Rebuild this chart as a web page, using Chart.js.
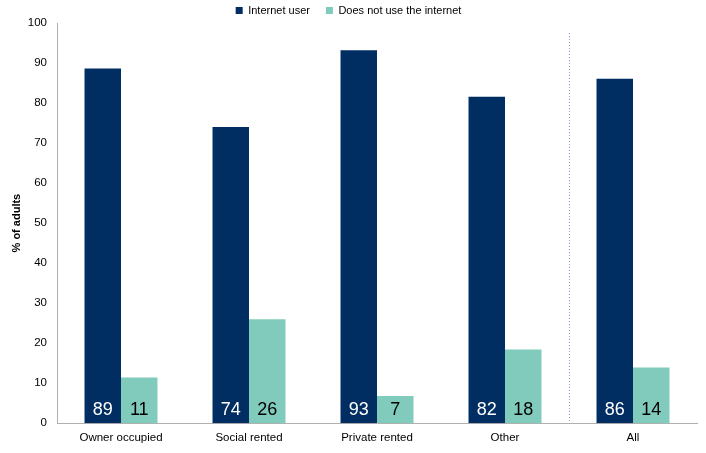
<!DOCTYPE html>
<html><head><meta charset="utf-8">
<script src="https://cdn.jsdelivr.net/npm/chart.js@4"></script>
<style>html,body{margin:0;padding:0;background:#fff}#w{width:706px;height:453px}</style>
</head><body><div id="w"><canvas id="c"></canvas></div>
<script>
const categories = ["Owner occupied","Social rented","Private rented","Other","All"];
const internetUser = [88.6, 74.0, 93.2, 81.6, 86.1];
const nonUser = [11.4, 26.0, 6.8, 18.4, 13.9];
const userLabels = ["89","74","93","82","86"];
const nonUserLabels = ["11","26","7","18","14"];
const yTicks = [0,10,20,30,40,50,60,70,80,90,100];
const FONT = '"Liberation Sans", Arial, sans-serif';

const labelPlugin = {
  id:'lbl',
  afterInit(chart){
    const lg = chart.legend;
    if (lg) {
      const f = lg.fit; lg.fit = function(){ f.call(this); this.height = 23; };
      const d = lg.draw; lg.draw = function(){ const t=this.top; this.top = t-11; d.call(this); this.top = t; };
    }
  },
  afterDatasetsDraw(chart){
    const ctx = chart.ctx, ys = chart.scales.y;
    const sets = [[userLabels,'#ffffff'],[nonUserLabels,'#000000']];
    ctx.save();
    ctx.font = '18px ' + FONT;
    ctx.textAlign='center'; ctx.textBaseline='middle';
    sets.forEach((s,di)=>{
      const meta = chart.getDatasetMeta(di);
      meta.data.forEach((bar,i)=>{
        ctx.fillStyle = s[1];
        ctx.fillText(s[0][i], bar.x, ys.getPixelForValue(0)-13);
      });
    });
    ctx.restore();
  },
  beforeDatasetsDraw(chart){
    const ctx = chart.ctx, xs = chart.scales.x, a = chart.chartArea;
    const x = Math.round((xs.getPixelForValue(3)+xs.getPixelForValue(4))/2)+0.5;
    ctx.save();
    ctx.strokeStyle='#7f9fc8'; ctx.lineWidth=1; ctx.setLineDash([1,2]);
    ctx.beginPath(); ctx.moveTo(x,a.top+10); ctx.lineTo(x,a.bottom); ctx.stroke();
    ctx.restore();
  }
};

new Chart(document.getElementById('c'),{
  type:'bar',
  data:{labels:categories,datasets:[
    {label:'Internet user',data:internetUser,backgroundColor:'#002d62',categoryPercentage:0.57,barPercentage:1},
    {label:'Does not use the internet',data:nonUser,backgroundColor:'#80cbbb',categoryPercentage:0.57,barPercentage:1}
  ]},
  options:{
    responsive:true,maintainAspectRatio:false,animation:false,
    layout:{padding:{left:0,right:9,top:0,bottom:0}},
    plugins:{
      legend:{position:'top',align:'center',labels:{boxWidth:7,boxHeight:7,padding:16,color:'#000',font:{family:FONT,size:11}}},
      tooltip:{enabled:false}
    },
    scales:{
      x:{grid:{display:false,drawTicks:false},border:{color:'#b0b0b0'},ticks:{color:'#000',padding:8,font:{family:FONT,size:11.5}}},
      y:{min:0,max:100,afterBuildTicks(ax){ax.ticks=yTicks.map(v=>({value:v}));},
         afterFit(ax){ax.width=57;},
         grid:{display:false,drawTicks:false},border:{color:'#b0b0b0'},
         ticks:{color:'#000',padding:10,font:{family:FONT,size:11.5}},
         title:{display:true,text:'% of adults',color:'#000',padding:{top:10,bottom:0},font:{family:FONT,size:11,weight:'bold'}}}
    }
  },
  plugins:[labelPlugin]
});
</script></body></html>
